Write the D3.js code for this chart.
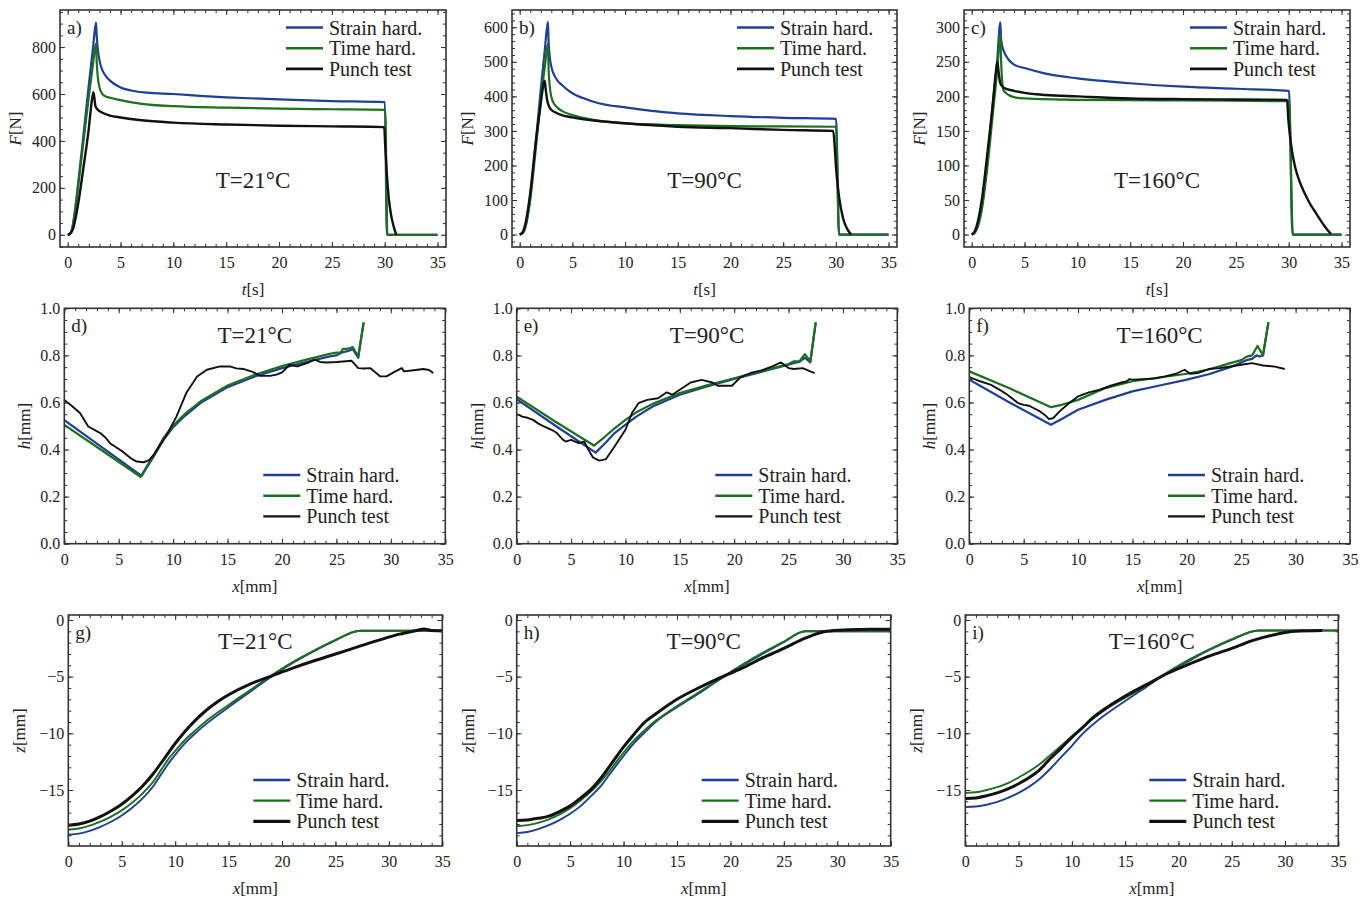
<!DOCTYPE html>
<html>
<head>
<meta charset="utf-8">
<script src="https://cdn.jsdelivr.net/npm/d3@7"></script>
<style>
  body { margin: 0; background: #fff; }
  svg text { font-family: "Liberation Serif", "Times New Roman", serif; fill: #222; }
</style>
</head>
<body>
<svg id="fig" width="1367" height="898"></svg>
<script>
// ---- data ----
const seriesNames = ["Strain hard.", "Time hard.", "Punch test"];
const temps = ["T=21°C", "T=90°C", "T=160°C"];
const tags = ["a)", "b)", "c)", "d)", "e)", "f)", "g)", "h)", "i)"];

// row 1: force F[N] vs time t[s]
const strainA = [[0,0],[0.2,4],[0.4,22],[0.6,75],[1.0,225],[1.5,430],[2.0,640],[2.4,800],[2.68,904],[2.74,850],[2.85,790],[3.0,745],[3.2,710],[3.5,683],[4.0,657],[5.0,628],[6.0,615],[7.5,606],[10,600],[12.5,592],[15,586],[20,577],[25,570],[30.02,565],[30.2,0],[35,0]];
const timeA = [[0,0],[0.2,4],[0.4,22],[0.6,70],[1.0,210],[1.5,400],[2.0,590],[2.4,730],[2.68,816],[2.74,740],[2.85,670],[3.0,630],[3.2,605],[3.5,592],[4.0,584],[5.0,574],[7,558],[10,548],[15,542],[20,538],[25,535],[30.05,532],[30.25,0],[35,0]];
const punchA = [[0,0],[0.2,3],[0.5,25],[1.0,135],[1.5,290],[2.0,455],[2.25,560],[2.43,608],[2.52,585],[2.62,548],[2.8,535],[3.2,522],[4,508],[5,500],[7,488],[10,478],[15,470],[20,465],[25,462],[29.95,459],[30.05,380],[30.2,260],[30.4,150],[30.6,85],[30.85,35],[31.1,0]];

const strainB = [[0,0],[0.3,5],[0.6,30],[1.0,110],[1.5,260],[2.0,420],[2.4,540],[2.68,616],[2.74,560],[2.85,515],[3.0,486],[3.3,460],[3.6,445],[4,433],[5,409],[6,395],[7.5,380],[10,368],[12.5,358],[15,351],[20,343],[25,338],[30.02,335],[30.3,0],[35,0]];
const timeB = [[0,0],[0.3,5],[0.6,28],[1.0,100],[1.5,240],[2.0,390],[2.4,490],[2.68,553],[2.74,480],[2.85,430],[3.0,399],[3.2,382],[3.5,370],[4,358],[5,346],[7,332],[10,322],[15,317],[20,314],[25,313],[30.02,312],[30.3,0],[35,0]];
const punchB = [[0,0],[0.3,8],[0.6,40],[1.0,120],[1.5,260],[2.0,380],[2.2,425],[2.37,445],[2.47,420],[2.6,390],[2.8,370],[3.0,361],[3.5,352],[4,346],[5,339],[7,330],[10,322],[15,312],[20,308],[25,303],[29.75,300],[29.9,250],[30.0,200],[30.3,110],[30.7,45],[31.1,15],[31.45,0]];

const strainC = [[0,0],[0.3,3],[0.6,15],[1.0,45],[1.5,110],[2.0,190],[2.4,250],[2.71,307],[2.77,285],[2.9,272],[3.0,267],[3.5,253],[4,246],[5,241],[7,233],[10,226],[15,219],[20,214],[25,211],[30.03,208],[30.35,0],[35,0]];
const timeC = [[0,0],[0.3,3],[0.6,12],[1.0,40],[1.5,100],[2.0,175],[2.4,235],[2.71,291],[2.77,255],[2.87,225],[3.0,209],[3.5,202],[4,199],[5,197],[10,195],[20,194],[30.03,193],[30.4,0],[35,0]];
const punchC = [[0,0],[0.3,5],[0.6,20],[1.0,55],[1.5,120],[2.0,190],[2.25,230],[2.43,250],[2.55,235],[2.7,219],[3.0,213],[4,208],[5,205],[7,202],[10,200],[15,197],[20,196],[25,195.5],[29.85,195],[29.95,170],[30.1,145],[30.3,122],[30.6,98],[31.0,78],[31.5,60],[32.0,45],[32.5,33],[33.0,21],[33.5,10],[34.0,1]];

// row 2: thickness h[mm] vs x[mm]
const strainD = [[0,0.525],[3.5,0.408],[7.1,0.288],[8.2,0.37],[9.1,0.44],[10,0.495],[11,0.54],[12.5,0.597],[15,0.665],[17.5,0.71],[20,0.746],[22.5,0.775],[24.5,0.797],[25,0.8],[25.5,0.812],[26,0.818],[26.5,0.826],[27,0.79],[27.5,0.94]];
const timeD = [[0,0.505],[3.5,0.395],[7.0,0.284],[8.2,0.375],[9.1,0.448],[10,0.502],[11,0.548],[12.5,0.604],[15,0.672],[17.5,0.718],[20,0.755],[22.5,0.785],[24.5,0.808],[25,0.812],[25.4,0.813],[25.6,0.828],[26,0.828],[26.5,0.835],[27,0.795],[27.5,0.94]];
const punchD = [[0,0.611],[0.7,0.585],[1.44,0.555],[2.2,0.498],[3.3,0.47],[3.8,0.45],[4.2,0.427],[5.4,0.39],[6.2,0.36],[6.65,0.349],[7.3,0.346],[7.8,0.355],[8.2,0.377],[8.8,0.42],[9.4,0.462],[10.3,0.54],[11.2,0.64],[12.2,0.71],[13.1,0.739],[14.3,0.753],[15.2,0.753],[15.8,0.745],[16.5,0.742],[17.3,0.73],[18,0.713],[18.9,0.713],[19.5,0.718],[20,0.728],[20.7,0.76],[21.4,0.753],[22.3,0.767],[23,0.782],[23.5,0.772],[24.1,0.77],[25,0.772],[25.6,0.774],[26.4,0.777],[27.0,0.746],[27.5,0.744],[28.1,0.746],[29,0.711],[29.6,0.711],[30.25,0.728],[31,0.746],[31.2,0.732],[31.9,0.736],[33,0.742],[33.5,0.738],[33.9,0.725]];

const strainE = [[0,0.614],[3.6,0.5],[7.26,0.387],[8.2,0.43],[9,0.47],[9.8,0.498],[11,0.54],[12.5,0.583],[15,0.633],[17.5,0.668],[20,0.7],[22.5,0.73],[25,0.76],[25.5,0.768],[26,0.772],[26.5,0.79],[27,0.77],[27.5,0.94]];
const timeE = [[0,0.625],[3.5,0.52],[7.1,0.417],[8,0.45],[9,0.49],[10,0.526],[11,0.558],[12.5,0.594],[15,0.64],[17.5,0.673],[20,0.703],[22.5,0.733],[25,0.763],[25.5,0.775],[26,0.775],[26.5,0.805],[27,0.775],[27.5,0.94]];
const punchE = [[0,0.55],[0.3,0.545],[0.5,0.54],[1.0,0.535],[1.5,0.526],[2.0,0.51],[2.5,0.498],[3.2,0.484],[3.7,0.47],[4.2,0.444],[4.5,0.434],[5,0.441],[5.7,0.427],[6.2,0.434],[6.6,0.399],[7.0,0.367],[7.6,0.353],[8.2,0.359],[9,0.413],[10,0.484],[10.6,0.555],[11.2,0.597],[12,0.611],[13,0.618],[13.8,0.643],[14.3,0.633],[15,0.654],[16,0.685],[17,0.696],[18,0.685],[18.5,0.671],[19.8,0.671],[20.6,0.708],[21.5,0.725],[22.5,0.736],[23.5,0.753],[24.3,0.77],[25,0.746],[25.5,0.742],[26.3,0.746],[27,0.732],[27.4,0.725]];

const strainF = [[0,0.697],[3.7,0.6],[7.5,0.505],[8.5,0.53],[10,0.569],[12.5,0.611],[15,0.647],[17.5,0.672],[20,0.697],[22,0.72],[24,0.75],[25,0.77],[25.5,0.78],[26,0.785],[26.4,0.8],[26.7,0.795],[27,0.8],[27.5,0.94]];
const timeF = [[0,0.732],[3.7,0.66],[7.5,0.58],[8.5,0.59],[10,0.611],[12.5,0.661],[15,0.69],[17.5,0.706],[20,0.722],[22,0.74],[24,0.767],[25,0.78],[25.5,0.795],[26,0.8],[26.5,0.84],[27,0.8],[27.5,0.94]];
const punchF = [[0,0.708],[1,0.69],[2,0.675],[3,0.648],[3.5,0.633],[4.5,0.597],[5,0.59],[5.5,0.586],[6.5,0.562],[7.0,0.545],[7.3,0.53],[7.7,0.533],[8.3,0.562],[9,0.59],[10,0.626],[11,0.643],[12,0.654],[13,0.671],[14,0.685],[14.5,0.69],[14.7,0.699],[15,0.697],[16,0.699],[17,0.702],[18,0.711],[19,0.722],[19.8,0.739],[20.3,0.722],[21,0.725],[22,0.742],[23,0.746],[24,0.753],[25,0.76],[26,0.767],[27,0.757],[28,0.753],[29,0.742]];

// row 3: profile z[mm] vs x[mm]
const strainG = [[0,-18.95],[1,-18.85],[2,-18.6],[3,-18.25],[4,-17.8],[5,-17.25],[6,-16.55],[7,-15.7],[8,-14.6],[8.7,-13.6],[9.5,-12.5],[10,-11.9],[11,-10.8],[12,-9.9],[13,-9.1],[15,-7.7],[17,-6.35],[19,-5.0],[21,-3.8],[23,-2.75],[25,-1.8],[27.3,-0.95],[35,-0.95]];
const timeG = [[0,-18.5],[1,-18.4],[2,-18.15],[3,-17.8],[4,-17.35],[5,-16.8],[6,-16.1],[7,-15.25],[8,-14.2],[8.7,-13.2],[9.5,-12.1],[10,-11.55],[11,-10.5],[12,-9.65],[13,-8.85],[15,-7.5],[17,-6.2],[19,-4.9],[21,-3.72],[23,-2.7],[25,-1.75],[27.3,-0.95],[35,-0.95]];
const punchG = [[0,-18.1],[1,-18.0],[2,-17.75],[3,-17.35],[4,-16.85],[5,-16.25],[6,-15.5],[7,-14.6],[8,-13.5],[9,-12.2],[10,-10.9],[11,-9.75],[12,-8.75],[13,-7.9],[14,-7.2],[15,-6.6],[17,-5.65],[19,-4.95],[21,-4.25],[23,-3.6],[25,-3.0],[27,-2.4],[29,-1.8],[31,-1.25],[32.5,-0.95],[33.3,-0.8],[34,-0.92],[35,-0.95]];

const strainH = [[0,-18.8],[1,-18.7],[2,-18.45],[3,-18.1],[4,-17.65],[5,-17.1],[6,-16.4],[7,-15.5],[8,-14.5],[8.7,-13.6],[9.5,-12.6],[10,-12.0],[11,-10.85],[12,-9.9],[13,-9.0],[15,-7.7],[17,-6.5],[19,-5.25],[21,-4.1],[23,-3.0],[25,-1.95],[27,-1.0],[35,-1.0]];
const timeH = [[0,-18.2],[1,-18.1],[2,-17.9],[3,-17.6],[4,-17.15],[5,-16.6],[6,-15.9],[7,-15.1],[8,-14.1],[8.7,-13.3],[9.5,-12.3],[10,-11.7],[11,-10.6],[12,-9.7],[13,-8.9],[15,-7.6],[17,-6.4],[19,-5.2],[21,-4.0],[23,-2.9],[25,-1.9],[27,-1.0],[35,-1.0]];
const punchH = [[0,-17.7],[1,-17.65],[2,-17.5],[3,-17.3],[4,-16.9],[5,-16.4],[6,-15.7],[7,-14.9],[8,-13.8],[9,-12.5],[10,-11.2],[11,-10.05],[12,-9.0],[13,-8.3],[15,-7.0],[17,-6.0],[19,-5.1],[21,-4.3],[23,-3.35],[25,-2.5],[27,-1.6],[29,-1.0],[31,-0.87],[33,-0.82],[35,-0.82]];

const strainI = [[0,-16.5],[1,-16.45],[2,-16.3],[3,-16.05],[4,-15.7],[5,-15.25],[6,-14.7],[7,-14.0],[8,-13.1],[9,-12.1],[10,-11.1],[11,-10.05],[12,-9.2],[13,-8.45],[15,-7.15],[17,-5.9],[19,-4.65],[21,-3.6],[23,-2.6],[25,-1.75],[27.5,-0.93],[35,-0.93]];
const timeI = [[0,-15.25],[1,-15.2],[2,-15.0],[3,-14.75],[4,-14.4],[5,-13.9],[6,-13.35],[7,-12.7],[8,-11.9],[9,-11.1],[10,-10.25],[11,-9.5],[12,-8.7],[13,-8.0],[15,-6.85],[17,-5.8],[19,-4.6],[21,-3.5],[23,-2.55],[25,-1.7],[27.5,-0.93],[35,-0.93]];
const punchI = [[0,-15.75],[1,-15.7],[2,-15.5],[3,-15.25],[4,-14.9],[5,-14.45],[6,-13.9],[7,-13.2],[8,-12.2],[9,-11.3],[10,-10.35],[11,-9.5],[12,-8.6],[13,-7.9],[15,-6.7],[17,-5.7],[19,-4.7],[21,-3.9],[23,-3.15],[25,-2.5],[27,-1.8],[29,-1.3],[31,-1.0],[33.5,-0.93]];

const colors = ["#1f3f96", "#1d6e1d", "#111"];
const FONT = '"Liberation Serif", "Times New Roman", serif';

// ---- layout per row ----
const rows = [
  { top: 10, bottom: 247, yDomains: [[-52, 958], [-36, 650], [-18, 325]],
    yMajor: [200, 100, 50], yMinor: [50, 20, 10], yFmt: d3.format("d"),
    xDom: [-0.73, 35.8], yVar: "F", yUnit: "[N]", xVar: "t", xUnit: "[s]",
    legDx: 160, legTop: 17.5, tempY: 178, yTitleDx: 45, curve: d3.curveMonotoneX,
    widths: [2.2, 2.2, 2.4] },
  { top: 308.3, bottom: 543.7, yDomains: [[0, 1], [0, 1], [0, 1]],
    yMajor: [0.2, 0.2, 0.2], yMinor: [0.05, 0.05, 0.05], yFmt: d3.format(".1f"),
    xDom: [0, 35], yVar: "h", yUnit: "[mm]", xVar: "x", xUnit: "[mm]",
    legDx: 182, legTop: 166.7, tempY: 35, yTitleDx: 40, curve: d3.curveLinear,
    widths: [2.2, 2.2, 1.9] },
  { top: 615, bottom: 846, yDomains: [[-19.94, 0.44], [-19.94, 0.44], [-19.94, 0.44]],
    yMajor: [5, 5, 5], yMinor: [1, 1, 1], yFmt: d3.format("d"),
    xDom: [0, 35], yVar: "z", yUnit: "[mm]", xVar: "x", xUnit: "[mm]",
    legDx: 189, legTop: 165, tempY: 34, yTitleDx: 49, curve: d3.curveMonotoneX,
    widths: [1.9, 1.9, 3] }
];
const cols = [
  [[60, 446], [512, 897], [964, 1350]],
  [[64.3, 445.3], [516.7, 897.3], [969.3, 1350]],
  [[68.3, 442.3], [516.7, 890.7], [965.3, 1338.3]]
];
const data = [
  [[strainA, timeA, punchA], [strainB, timeB, punchB], [strainC, timeC, punchC]],
  [[strainD, timeD, punchD], [strainE, timeE, punchE], [strainF, timeF, punchF]],
  [[strainG, timeG, punchG], [strainH, timeH, punchH], [strainI, timeI, punchI]]
];

const svg = d3.select("#fig");

function ticksIn(dom, step) {
  const lo = Math.ceil(dom[0] / step - 1e-9), hi = Math.floor(dom[1] / step + 1e-9);
  return d3.range(lo, hi + 1).map(k => +(k * step).toFixed(6));
}

rows.forEach((row, r) => {
  cols[r].forEach((cx, c) => {
    const idx = r * 3 + c;
    const [x0, x1] = cx;
    const y0 = row.top, y1 = row.bottom;
    const x = d3.scaleLinear().domain(row.xDom).range([x0, x1]);
    const y = d3.scaleLinear().domain(row.yDomains[c]).range([y1, y0]);
    const g = svg.append("g");

    const clipId = "clip" + idx;
    g.append("clipPath").attr("id", clipId)
      .append("rect").attr("x", x0).attr("y", y0).attr("width", x1 - x0).attr("height", y1 - y0);

    // series
    const line = d3.line().x(d => x(d[0])).y(d => y(d[1])).curve(row.curve);
    data[r][c].forEach((s, i) => {
      g.append("path").datum(s)
        .attr("clip-path", `url(#${clipId})`)
        .attr("d", line)
        .attr("fill", "none")
        .attr("stroke", colors[i])
        .attr("stroke-width", row.widths[i])
        .attr("stroke-linejoin", "round");
    });

    // axes, ticks pointing inwards on all sides
    const xMaj = ticksIn(row.xDom, 5), xMin = ticksIn(row.xDom, 1);
    const yMaj = ticksIn(row.yDomains[c], row.yMajor[c]), yMin = ticksIn(row.yDomains[c], row.yMinor[c]);
    const ax = (axis, tr) => g.append("g").attr("transform", tr)
      .style("color", "#333").call(axis).call(a => a.select(".domain").remove())
      .attr("font-family", FONT).attr("font-size", 16);

    ax(d3.axisBottom(x).tickValues(xMaj).tickSize(-5).tickPadding(10).tickFormat(d3.format("d")), `translate(0,${y1})`);
    ax(d3.axisBottom(x).tickValues(xMin).tickSize(-3).tickFormat(""), `translate(0,${y1})`);
    ax(d3.axisTop(x).tickValues(xMaj).tickSize(-5).tickFormat(""), `translate(0,${y0})`);
    ax(d3.axisTop(x).tickValues(xMin).tickSize(-3).tickFormat(""), `translate(0,${y0})`);
    ax(d3.axisLeft(y).tickValues(yMaj).tickSize(-5).tickPadding(4).tickFormat(row.yFmt), `translate(${x0},0)`);
    ax(d3.axisLeft(y).tickValues(yMin).tickSize(-3).tickFormat(""), `translate(${x0},0)`);
    ax(d3.axisRight(y).tickValues(yMaj).tickSize(-5).tickFormat(""), `translate(${x1},0)`);
    ax(d3.axisRight(y).tickValues(yMin).tickSize(-3).tickFormat(""), `translate(${x1},0)`);
    g.selectAll(".tick line").attr("stroke-width", 1);
    g.selectAll(".tick text").style("font-family", FONT).style("font-size", "16px").style("fill", "#222");

    // frame
    g.append("rect").attr("x", x0).attr("y", y0).attr("width", x1 - x0).attr("height", y1 - y0)
      .attr("fill", "none").attr("stroke", "#333").attr("stroke-width", 1.6);

    // panel tag and temperature
    g.append("text").attr("x", x0 + 7).attr("y", y0 + 24).style("font-size", "19px").text(tags[idx]);
    g.append("text").attr("x", (x0 + x1) / 2).attr("y", y0 + row.tempY)
      .attr("text-anchor", "middle").style("font-size", "23px").text(temps[c]);

    // axis titles
    const xt = g.append("text").attr("x", (x0 + x1) / 2).attr("y", y1 + 48)
      .attr("text-anchor", "middle").style("font-size", "17px");
    xt.append("tspan").style("font-style", "italic").text(row.xVar);
    xt.append("tspan").text(row.xUnit);
    const yt = g.append("text")
      .attr("transform", `translate(${x0 - row.yTitleDx},${(y0 + y1) / 2}) rotate(-90)`)
      .attr("text-anchor", "middle").attr("dy", "0.35em").style("font-size", "17px");
    yt.append("tspan").style("font-style", "italic").text(row.yVar);
    yt.append("tspan").text(row.yUnit);

    // legend
    const lx = x1 - row.legDx, ly = y0 + row.legTop;
    seriesNames.forEach((name, i) => {
      const yy = ly + i * 20.7;
      g.append("line").attr("x1", lx).attr("x2", lx + 37).attr("y1", yy).attr("y2", yy)
        .attr("stroke", colors[i]).attr("stroke-width", row.widths[i] + 0.4);
      g.append("text").attr("x", lx + 43).attr("y", yy).attr("dy", "0.35em")
        .style("font-size", "20px").text(name);
    });
  });
});
</script>
</body>
</html>
